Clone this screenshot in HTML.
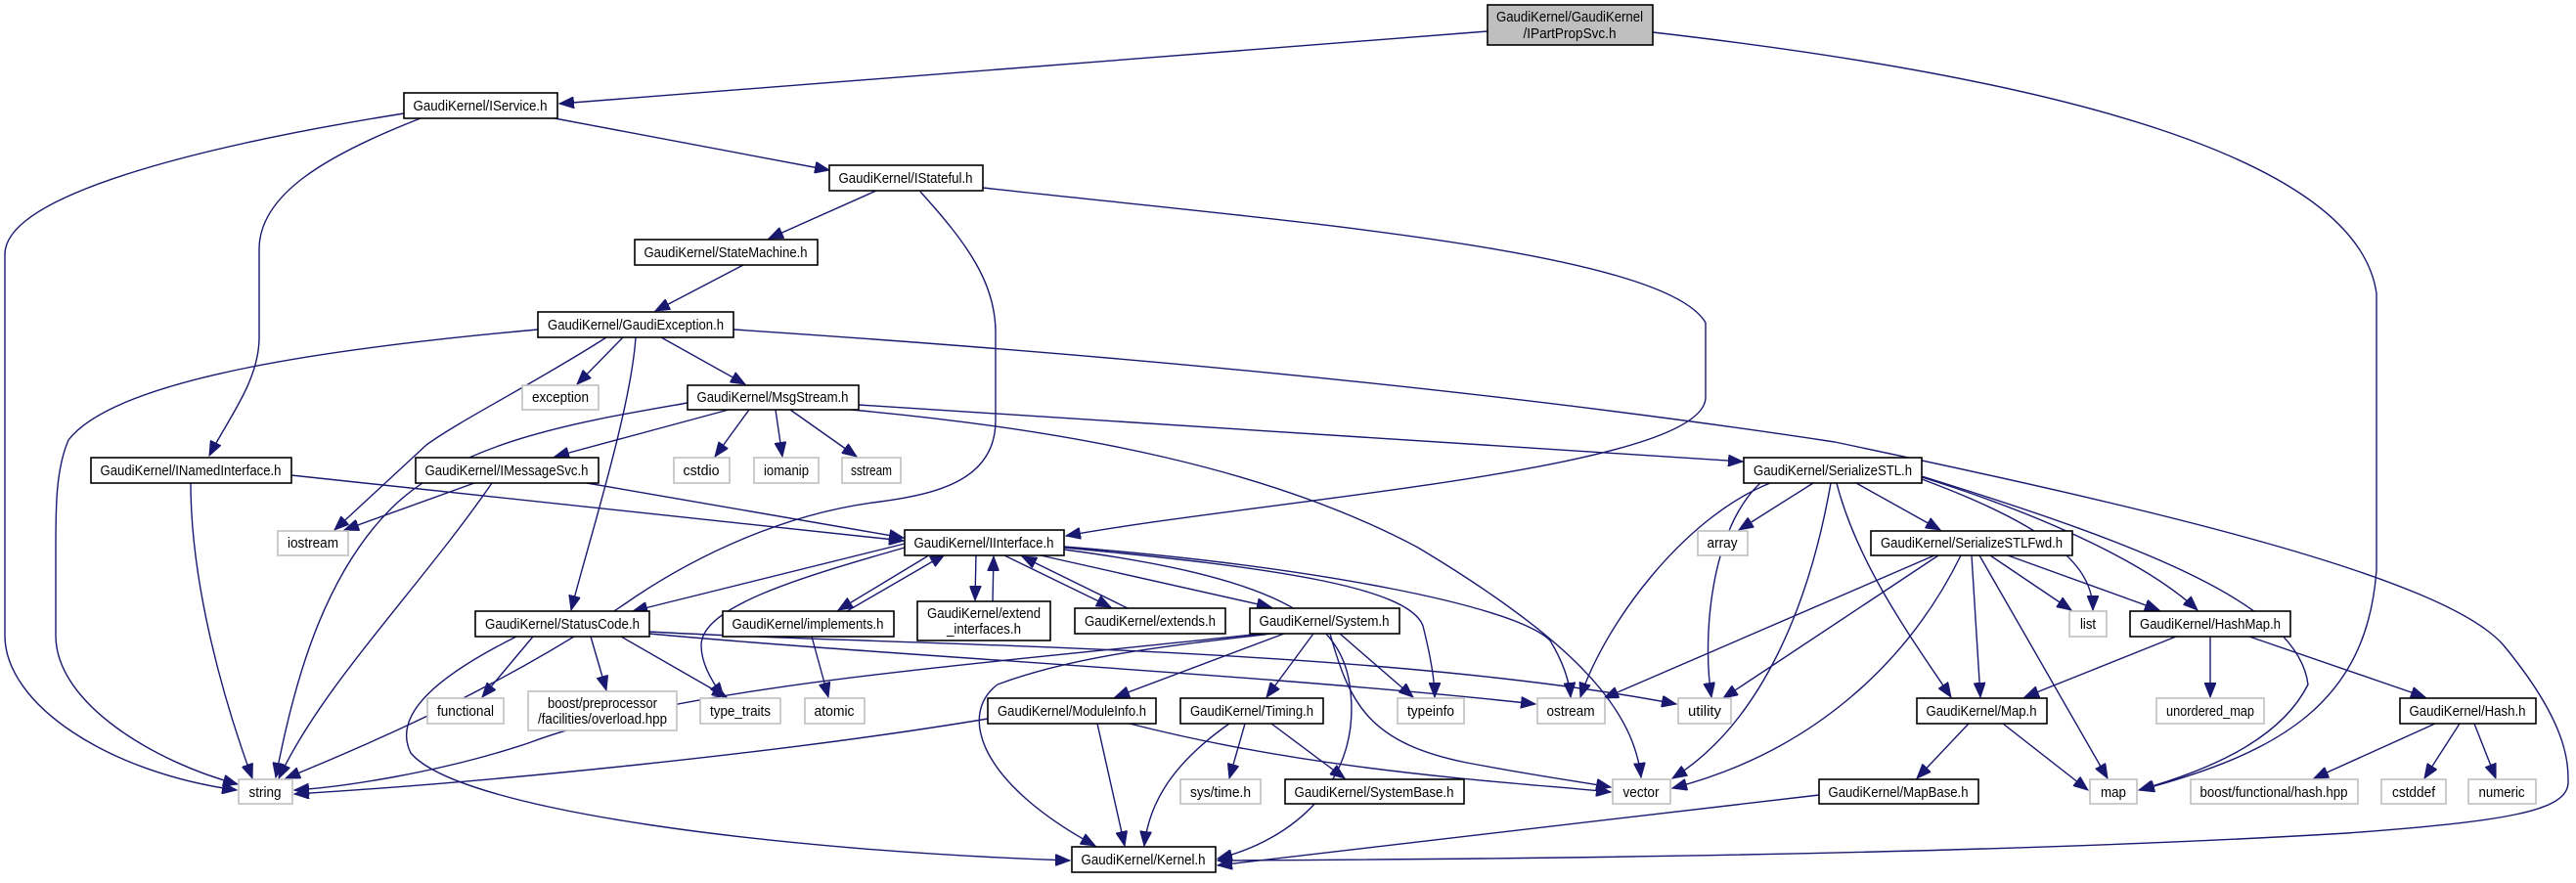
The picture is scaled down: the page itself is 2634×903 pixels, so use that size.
<!DOCTYPE html>
<html><head><meta charset="utf-8"><style>
html,body{margin:0;padding:0;background:#fff;}
svg{display:block;}
text{font-family:"Liberation Sans",sans-serif;font-size:15px;fill:#000;text-anchor:middle;}
.b{fill:#fff;stroke:#000;stroke-width:1.6;}
.g{fill:#fff;stroke:#bfbfbf;stroke-width:1.6;}
.t{fill:#bfbfbf;stroke:#000;stroke-width:1.6;}
path{fill:none;stroke:#191970;stroke-width:1.4;marker-end:url(#a);}
</style></head><body>
<svg width="2634" height="903" viewBox="0 0 2634 903" xmlns="http://www.w3.org/2000/svg">
<defs><marker id="a" markerUnits="userSpaceOnUse" markerWidth="16" markerHeight="12" refX="15" refY="6" orient="auto"><polygon points="0,0 15,6 0,12" fill="#191970" stroke="#191970"/></marker></defs>
<!-- edges -->
<path d="M1521,32 L572,106"/>
<path d="M1690,33 C2100,80 2410,160 2430,300 L2430,583 C2420,720 2330,770 2188,808"/>
<path d="M413,116 C200,150 5,200 5,260 L5,650 C5,720 110,790 242,808"/>
<path d="M430,121 C330,160 265,200 265,255 L265,345 C265,390 232,430 214,466"/>
<path d="M567,121 L848,174"/>
<path d="M896,195 L786,244"/>
<path d="M941,196 C990,250 1018,290 1018,340 L1018,430 C1018,490 960,505 900,513 C800,525 710,570 650,610 C520,700 380,760 292,796"/>
<path d="M1005,192 C1300,225 1700,255 1744,330 L1744,407 C1740,480 1300,510 1090,548"/>
<path d="M760,271 L670,318"/>
<path d="M550,337 C350,355 120,385 70,450 C57,480 57,520 57,560 L57,650 C57,720 160,780 243,802"/>
<path d="M620,345 C550,390 470,430 436,455 L342,542"/>
<path d="M637,345 L590,393"/>
<path d="M650,345 C645,420 600,560 584,624"/>
<path d="M676,345 L762,393"/>
<path d="M750,337 C1100,360 1500,395 1876,452 C2200,520 2500,590 2560,660 C2626,740 2626,780 2626,800 C2626,830 2560,840 2400,852 C2100,870 1700,878 1245,880"/>
<path d="M703,412 C600,430 470,450 400,520 C330,590 300,700 282,795"/>
<path d="M745,419 L567,467"/>
<path d="M766,419 L731,467"/>
<path d="M793,419 L800,467"/>
<path d="M808,419 L876,467"/>
<path d="M878,414 L1782,472"/>
<path d="M870,419 C1100,440 1300,480 1450,560 C1600,650 1670,720 1678,795"/>
<path d="M485,494 L352,542"/>
<path d="M503,494 C430,600 330,700 285,796"/>
<path d="M600,494 L924,550"/>
<path d="M195,494 C195,600 230,720 258,796"/>
<path d="M298,486 L924,553"/>
<path d="M925,556 L647,625"/>
<path d="M953,566 L857,624"/>
<path d="M866,625 L966,567"/>
<path d="M998,566 L997,614"/>
<path d="M1015,615 L1016,569"/>
<path d="M1027,568 L1136,621"/>
<path d="M1153,622 L1045,569"/>
<path d="M1064,568 L1300,621"/>
<path d="M925,560 C820,590 717,620 717,660 C717,680 730,700 740,713"/>
<path d="M1088,560 C1300,580 1440,600 1455,640 C1465,680 1467,700 1467,713"/>
<path d="M1088,562 C1300,590 1370,630 1380,700 C1395,800 1320,860 1245,878"/>
<path d="M1088,559 C1350,580 1550,620 1585,655 C1600,680 1605,700 1606,713"/>
<path d="M545,651 L493,713"/>
<path d="M604,651 L620,706"/>
<path d="M635,651 L743,713"/>
<path d="M664,648 C900,670 1300,690 1570,720"/>
<path d="M664,646 C900,660 1400,660 1714,720"/>
<path d="M528,651 C450,690 400,730 420,770 C470,830 800,870 1094,880"/>
<path d="M830,651 L847,713"/>
<path d="M1313,648 L1140,713"/>
<path d="M1343,648 L1295,713"/>
<path d="M1370,648 L1445,713"/>
<path d="M1360,648 C1380,720 1400,760 1500,780 C1580,795 1620,800 1647,805"/>
<path d="M1300,648 C1200,660 1100,670 1020,700 C980,730 1000,800 1120,865"/>
<path d="M1290,648 C1000,680 700,700 540,760 C450,790 350,805 301,808"/>
<path d="M1122,740 L1150,865"/>
<path d="M1155,740 C1350,790 1550,800 1647,810"/>
<path d="M1010,735 C800,770 500,800 301,812"/>
<path d="M1273,740 L1257,796"/>
<path d="M1300,740 L1375,796"/>
<path d="M1257,740 C1200,780 1175,820 1170,865"/>
<path d="M1854,494 L1778,542"/>
<path d="M1898,494 L1984,542"/>
<path d="M1878,494 C1900,580 1960,660 1995,713"/>
<path d="M1965,490 C2100,540 2140,580 2140,624"/>
<path d="M1965,488 C2100,530 2200,580 2247,624"/>
<path d="M1965,487 C2200,560 2350,620 2360,700 C2330,760 2250,790 2187,808"/>
<path d="M1810,494 C1720,530 1640,640 1616,713"/>
<path d="M1800,494 C1750,540 1740,650 1750,713"/>
<path d="M1872,494 C1850,620 1800,740 1710,796"/>
<path d="M1978,568 L1640,714"/>
<path d="M1982,568 L1762,714"/>
<path d="M2005,568 C1950,680 1850,770 1710,806"/>
<path d="M2016,568 L2025,713"/>
<path d="M2024,568 L2155,796"/>
<path d="M2035,568 L2118,624"/>
<path d="M2053,568 L2208,624"/>
<path d="M2225,651 L2070,713"/>
<path d="M2260,651 L2260,713"/>
<path d="M2300,651 L2480,713"/>
<path d="M2013,740 L1960,796"/>
<path d="M2048,740 L2135,808"/>
<path d="M1860,813 L1245,885"/>
<path d="M2490,740 L2366,796"/>
<path d="M2515,740 L2479,796"/>
<path d="M2530,740 L2552,796"/>
<!-- nodes -->
<rect class="t" x="1521" y="5" width="169" height="41"/><text x="1605" y="22" textLength="150" lengthAdjust="spacingAndGlyphs">GaudiKernel/GaudiKernel</text><text x="1605" y="39" textLength="95" lengthAdjust="spacingAndGlyphs">/IPartPropSvc.h</text>
<rect class="b" x="413" y="95" width="157" height="26"/><text x="491" y="113" textLength="137" lengthAdjust="spacingAndGlyphs">GaudiKernel/IService.h</text>
<rect class="b" x="848" y="169" width="157" height="26"/><text x="926" y="187" textLength="137" lengthAdjust="spacingAndGlyphs">GaudiKernel/IStateful.h</text>
<rect class="b" x="649" y="245" width="187" height="26"/><text x="742" y="263" textLength="167" lengthAdjust="spacingAndGlyphs">GaudiKernel/StateMachine.h</text>
<rect class="b" x="550" y="319" width="200" height="26"/><text x="650" y="337" textLength="180" lengthAdjust="spacingAndGlyphs">GaudiKernel/GaudiException.h</text>
<rect class="g" x="534" y="394" width="78" height="25"/><text x="573" y="411" textLength="58" lengthAdjust="spacingAndGlyphs">exception</text>
<rect class="b" x="703" y="394" width="175" height="25"/><text x="790" y="411" textLength="155" lengthAdjust="spacingAndGlyphs">GaudiKernel/MsgStream.h</text>
<rect class="b" x="93" y="468" width="205" height="26"/><text x="195" y="486" textLength="185" lengthAdjust="spacingAndGlyphs">GaudiKernel/INamedInterface.h</text>
<rect class="b" x="425" y="468" width="187" height="26"/><text x="518" y="486" textLength="167" lengthAdjust="spacingAndGlyphs">GaudiKernel/IMessageSvc.h</text>
<rect class="g" x="689" y="468" width="57" height="26"/><text x="717" y="486" textLength="37" lengthAdjust="spacingAndGlyphs">cstdio</text>
<rect class="g" x="771" y="468" width="66" height="26"/><text x="804" y="486" textLength="46" lengthAdjust="spacingAndGlyphs">iomanip</text>
<rect class="g" x="861" y="468" width="60" height="26"/><text x="891" y="486" textLength="42" lengthAdjust="spacingAndGlyphs">sstream</text>
<rect class="b" x="1783" y="468" width="182" height="26"/><text x="1874" y="486" textLength="162" lengthAdjust="spacingAndGlyphs">GaudiKernel/SerializeSTL.h</text>
<rect class="g" x="284" y="543" width="72" height="25"/><text x="320" y="560" textLength="52" lengthAdjust="spacingAndGlyphs">iostream</text>
<rect class="b" x="925" y="542" width="163" height="26"/><text x="1006" y="560" textLength="143" lengthAdjust="spacingAndGlyphs">GaudiKernel/IInterface.h</text>
<rect class="g" x="1736" y="543" width="51" height="25"/><text x="1761" y="560" textLength="31" lengthAdjust="spacingAndGlyphs">array</text>
<rect class="b" x="1913" y="543" width="206" height="25"/><text x="2016" y="560" textLength="186" lengthAdjust="spacingAndGlyphs">GaudiKernel/SerializeSTLFwd.h</text>
<rect class="b" x="486" y="625" width="178" height="26"/><text x="575" y="643" textLength="158" lengthAdjust="spacingAndGlyphs">GaudiKernel/StatusCode.h</text>
<rect class="b" x="739" y="625" width="175" height="26"/><text x="826" y="643" textLength="155" lengthAdjust="spacingAndGlyphs">GaudiKernel/implements.h</text>
<rect class="b" x="938" y="615" width="136" height="40"/><text x="1006" y="632" textLength="116" lengthAdjust="spacingAndGlyphs">GaudiKernel/extend</text><text x="1006" y="648" textLength="76" lengthAdjust="spacingAndGlyphs">_interfaces.h</text>
<rect class="b" x="1099" y="622" width="154" height="26"/><text x="1176" y="640" textLength="134" lengthAdjust="spacingAndGlyphs">GaudiKernel/extends.h</text>
<rect class="b" x="1278" y="622" width="153" height="26"/><text x="1354" y="640" textLength="133" lengthAdjust="spacingAndGlyphs">GaudiKernel/System.h</text>
<rect class="g" x="2116" y="625" width="38" height="26"/><text x="2135" y="643" textLength="16" lengthAdjust="spacingAndGlyphs">list</text>
<rect class="b" x="2178" y="625" width="164" height="26"/><text x="2260" y="643" textLength="144" lengthAdjust="spacingAndGlyphs">GaudiKernel/HashMap.h</text>
<rect class="g" x="437" y="714" width="78" height="26"/><text x="476" y="732" textLength="58" lengthAdjust="spacingAndGlyphs">functional</text>
<rect class="g" x="540" y="707" width="152" height="40"/><text x="616" y="724" textLength="112" lengthAdjust="spacingAndGlyphs">boost/preprocessor</text><text x="616" y="740" textLength="132" lengthAdjust="spacingAndGlyphs">/facilities/overload.hpp</text>
<rect class="g" x="716" y="714" width="82" height="26"/><text x="757" y="732" textLength="62" lengthAdjust="spacingAndGlyphs">type_traits</text>
<rect class="g" x="823" y="714" width="61" height="26"/><text x="853" y="732" textLength="41" lengthAdjust="spacingAndGlyphs">atomic</text>
<rect class="b" x="1010" y="714" width="172" height="26"/><text x="1096" y="732" textLength="152" lengthAdjust="spacingAndGlyphs">GaudiKernel/ModuleInfo.h</text>
<rect class="b" x="1207" y="714" width="146" height="26"/><text x="1280" y="732" textLength="126" lengthAdjust="spacingAndGlyphs">GaudiKernel/Timing.h</text>
<rect class="g" x="1429" y="714" width="68" height="26"/><text x="1463" y="732" textLength="48" lengthAdjust="spacingAndGlyphs">typeinfo</text>
<rect class="g" x="1572" y="714" width="69" height="26"/><text x="1606" y="732" textLength="49" lengthAdjust="spacingAndGlyphs">ostream</text>
<rect class="g" x="1716" y="714" width="54" height="26"/><text x="1743" y="732" textLength="34" lengthAdjust="spacingAndGlyphs">utility</text>
<rect class="b" x="1960" y="714" width="133" height="26"/><text x="2026" y="732" textLength="113" lengthAdjust="spacingAndGlyphs">GaudiKernel/Map.h</text>
<rect class="g" x="2205" y="714" width="110" height="26"/><text x="2260" y="732" textLength="90" lengthAdjust="spacingAndGlyphs">unordered_map</text>
<rect class="b" x="2454" y="714" width="139" height="26"/><text x="2523" y="732" textLength="119" lengthAdjust="spacingAndGlyphs">GaudiKernel/Hash.h</text>
<rect class="g" x="244" y="797" width="55" height="25"/><text x="271" y="815" textLength="33" lengthAdjust="spacingAndGlyphs">string</text>
<rect class="g" x="1207" y="797" width="82" height="25"/><text x="1248" y="815" textLength="62" lengthAdjust="spacingAndGlyphs">sys/time.h</text>
<rect class="b" x="1314" y="797" width="183" height="25"/><text x="1405" y="815" textLength="163" lengthAdjust="spacingAndGlyphs">GaudiKernel/SystemBase.h</text>
<rect class="g" x="1649" y="797" width="59" height="25"/><text x="1678" y="815" textLength="37" lengthAdjust="spacingAndGlyphs">vector</text>
<rect class="b" x="1860" y="797" width="163" height="25"/><text x="1941" y="815" textLength="143" lengthAdjust="spacingAndGlyphs">GaudiKernel/MapBase.h</text>
<rect class="g" x="2137" y="797" width="48" height="25"/><text x="2161" y="815" textLength="26" lengthAdjust="spacingAndGlyphs">map</text>
<rect class="g" x="2240" y="797" width="171" height="25"/><text x="2325" y="815" textLength="151" lengthAdjust="spacingAndGlyphs">boost/functional/hash.hpp</text>
<rect class="g" x="2435" y="797" width="66" height="25"/><text x="2468" y="815" textLength="44" lengthAdjust="spacingAndGlyphs">cstddef</text>
<rect class="g" x="2524" y="797" width="69" height="25"/><text x="2558" y="815" textLength="47" lengthAdjust="spacingAndGlyphs">numeric</text>
<rect class="b" x="1096" y="866" width="147" height="26"/><text x="1169" y="884" textLength="127" lengthAdjust="spacingAndGlyphs">GaudiKernel/Kernel.h</text>
</svg>
</body></html>
